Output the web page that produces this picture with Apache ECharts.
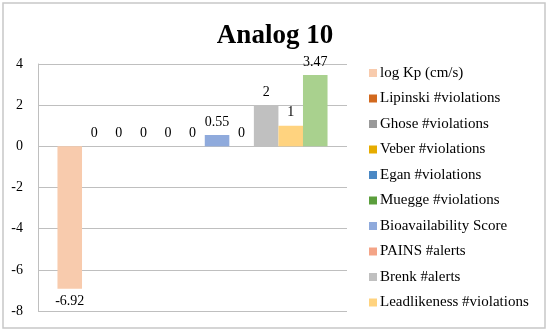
<!DOCTYPE html>
<html>
<head>
<meta charset="utf-8">
<script src="https://cdn.jsdelivr.net/npm/echarts@6/dist/echarts.min.js"></script>
<style>html,body{margin:0;padding:0;background:#fff}#c{width:550px;height:332px}</style>
</head>
<body>
<div id="c"></div>
<script>
const seriesNames = ["log Kp (cm/s)", "Lipinski #violations", "Ghose #violations", "Veber #violations", "Egan #violations", "Muegge #violations", "Bioavailability Score", "PAINS #alerts", "Brenk #alerts", "Leadlikeness #violations", "Synthetic accessibility"];
const seriesValues = [-6.92, 0, 0, 0, 0, 0, 0.55, 0, 2, 1, 3.47];
const seriesColors = ["#F8CBAD", "#D2691E", "#999999", "#E6AC00", "#4A88C4", "#5B9E3C", "#8FAADC", "#F4A487", "#C0C0C0", "#FFD37F", "#A9D18E"];
const legendNames = seriesNames.slice(0, 10);
const yTicks = { min: -8, max: 4, interval: 2 };

const font = "'Liberation Serif', 'Times New Roman', serif";
const chart = echarts.init(document.getElementById('c'));
chart.setOption({
  animation: false,
  title: { text: 'Analog 10', left: 'center', top: 18, textStyle: { fontFamily: font, fontSize: 27, fontWeight: 'bold', color: '#000' } },
  graphic: [{ type: 'rect', shape: { x: 3, y: 3, width: 542, height: 325 }, style: { fill: 'none', stroke: '#c8c8c8', lineWidth: 1.5 }, silent: true }],
  legend: {
    orient: 'vertical', left: 369, top: 64.5, padding: 0, data: legendNames,
    itemWidth: 8, itemHeight: 8, itemGap: 8.5, icon: 'rect',
    textStyle: { fontFamily: font, fontSize: 15, color: '#000', lineHeight: 17, padding: [0, 0, 0, -2] }
  },
  grid: { left: 38, top: 64, width: 309, height: 247, containLabel: false },
  xAxis: { type: 'category', data: [''], axisLine: { show: false }, axisTick: { show: false }, axisLabel: { show: false } },
  yAxis: {
    type: 'value', min: yTicks.min, max: yTicks.max, interval: yTicks.interval,
    axisLine: { show: true, lineStyle: { color: '#bfbfbf' } }, axisTick: { show: false },
    splitLine: { lineStyle: { color: '#bfbfbf' } },
    axisLabel: { fontFamily: font, fontSize: 14, color: '#000', margin: 15 }
  },
  series: seriesNames.map((n, i) => ({
    name: n, type: 'bar', data: [seriesValues[i]], barGap: '0%', barCategoryGap: '12.6%',
    itemStyle: { color: seriesColors[i] },
    label: { show: true, position: seriesValues[i] < 0 ? 'bottom' : 'top', distance: 6, fontFamily: font, fontSize: 14, color: '#000' }
  }))
});
</script>
</body>
</html>
